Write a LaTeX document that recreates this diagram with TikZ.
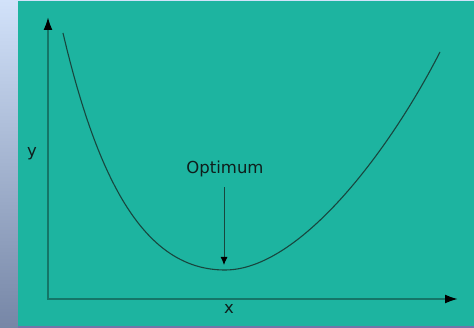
\documentclass[tikz,border=0pt]{standalone}
\usepackage{fontspec}
\setmainfont{DejaVu Sans}
\usetikzlibrary{arrows.meta}
\definecolor{teal1}{RGB}{29,180,160}
\definecolor{axiscol}{RGB}{20,118,104}
\definecolor{curvecol}{RGB}{24,70,62}
\definecolor{stripTop}{RGB}{210,226,250}
\definecolor{stripMid}{RGB}{190,205,235}
\definecolor{stripBot}{RGB}{118,134,166}
\definecolor{bottomline}{RGB}{112,118,170}
\definecolor{txtcol}{RGB}{15,30,28}
\tikzset{
  axisline/.style={draw=axiscol, line width=2pt, -{Latex[length=13pt,width=9pt,color=black]}},
  curveline/.style={draw=curvecol, line width=1.1pt},
  optarrow/.style={draw=curvecol, line width=0.9pt, -{Latex[length=8pt,width=7pt,color=black]}},
  lbl/.style={inner sep=0pt, text=txtcol, font=\fontsize{16.5}{18}\selectfont}
}
\begin{document}
\begin{tikzpicture}[x=1pt,y=-1pt]
\useasboundingbox (0,0) rectangle (474,328);
% background
\fill[stripTop] (0,0) rectangle (474,328);
\shade[top color=stripTop, middle color=stripMid, bottom color=stripBot] (0,0) rectangle (18,328);
\fill[bottomline] (18,326) rectangle (474,328);
\fill[teal1] (18,1) rectangle (474,326);
% axes
\coordinate (origin) at (48,299);
\coordinate (ytop) at (48,17);
\coordinate (xend) at (458,299);
\draw[axisline] ([yshift=-1pt]origin) -- (ytop);
\draw[axisline] ([xshift=-1pt]origin) -- (xend);
% curve
\coordinate (cstart) at (63,33);
\coordinate (cmin) at (225,270);
\coordinate (cend) at (440,52);
\draw[curveline] (cstart) .. controls (98,182) and (145,270) .. (cmin)
  .. controls (300,270) and (390,150) .. (cend);
% labels
\node[lbl] (ylab) at (32,154) {y};
\node[lbl] (xlab) at (229,309) {x};
\node[lbl] (opt) at (225,169) {Optimum};
\coordinate (opttip) at (224,265);
\draw[optarrow] ([yshift=-10pt]opt.south -| opttip) -- (opttip);
\end{tikzpicture}
\end{document}
